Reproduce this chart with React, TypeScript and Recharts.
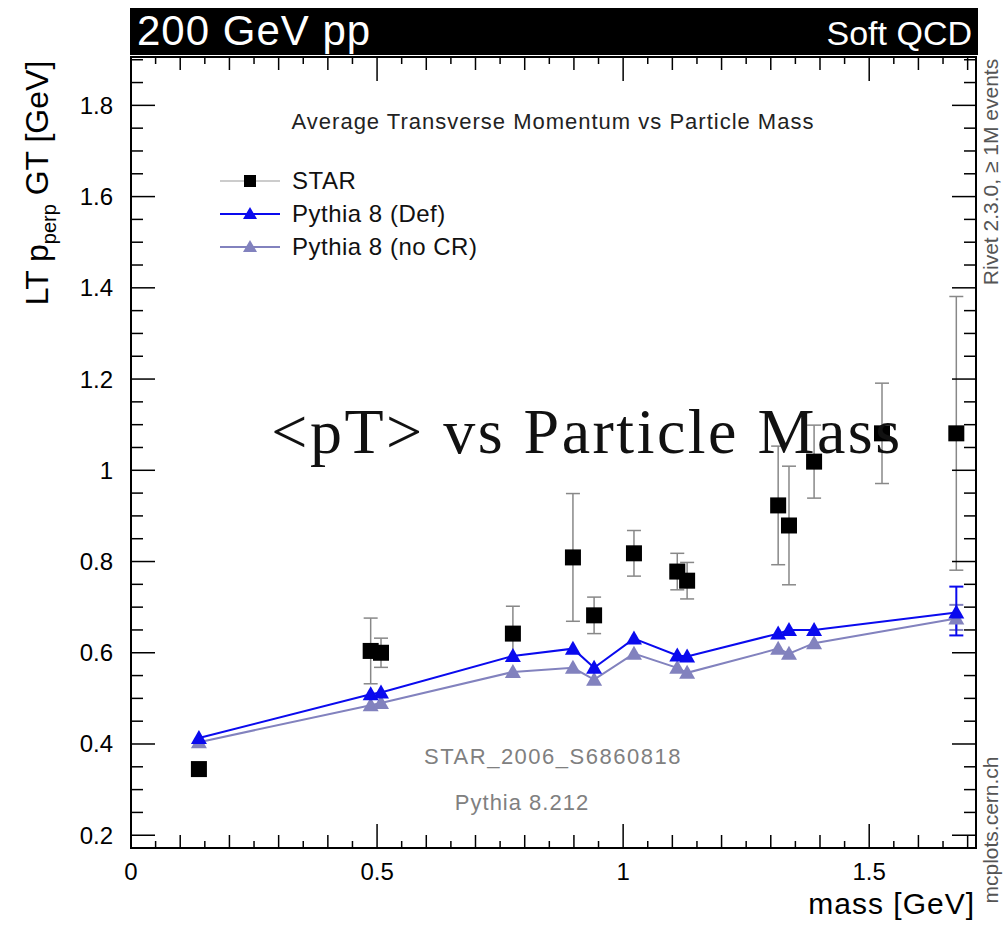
import { ComposedChart, Scatter, XAxis, YAxis, ErrorBar, ReferenceArea } from "recharts";

// STAR data points
const starMass = [0.138, 0.487, 0.508, 0.776, 0.898, 0.941, 1.022, 1.11, 1.13, 1.315, 1.337, 1.388, 1.526, 1.677];
const starPt = [0.345, 0.604, 0.6, 0.642, 0.809, 0.682, 0.818, 0.778, 0.758, 0.923, 0.879, 1.019, 1.081, 1.081];
const starErr = [0.012, 0.072, 0.032, 0.06, 0.14, 0.04, 0.05, 0.04, 0.04, 0.13, 0.13, 0.08, 0.11, 0.3];

// Pythia 8 curves
const pyMass = [0.138, 0.487, 0.508, 0.776, 0.898, 0.941, 1.022, 1.11, 1.13, 1.315, 1.337, 1.388, 1.677];
const defPt = [0.413, 0.509, 0.513, 0.593, 0.609, 0.567, 0.631, 0.594, 0.592, 0.642, 0.65, 0.65, 0.688];
const noCrPt = [0.404, 0.485, 0.49, 0.558, 0.567, 0.541, 0.598, 0.567, 0.556, 0.609, 0.598, 0.621, 0.675];
const defErr = [null, null, null, null, null, null, null, null, null, null, null, null, [0.05, 0.057]];
const noCrErr = [null, null, null, null, null, null, null, null, null, null, null, null, [0.025, 0.03]];

const xMajor = [0, 0.5, 1, 1.5];
const yMajor = [0.2, 0.4, 0.6, 0.8, 1, 1.2, 1.4, 1.6, 1.8];

const W = 1004;
const H = 927;
const PL = 131, PR = 976, PT = 57, PB = 848;
const BLUE = "#0a0aee";
const PURPLE = "#8282be";
const FONT = "'Liberation Sans', Arial, sans-serif";

// every 0.05, labels only on the majors
const xTicks = Array.from({ length: 35 }, (_, i) => +(i * 0.05).toFixed(2));
const yTicks = Array.from({ length: 35 }, (_, i) => +(0.2 + i * 0.05).toFixed(2));

const starData = starMass.map((m, i) => ({ mass: m, pt: starPt[i], err: starErr[i] }));
const defData = pyMass.map((m, i) => ({ mass: m, pt: defPt[i], err: defErr[i] }));
const noCrData = pyMass.map((m, i) => ({ mass: m, pt: noCrPt[i], err: noCrErr[i] }));

const near = (v: number, step: number) => Math.abs(v / step - Math.round(v / step)) < 1e-6;

function YTick({ y, payload }: any) {
  const v = payload.value;
  const len = near(v, 0.2) ? 24 : 12;
  return (
    <g>
      <line x1={PL} x2={PL + len} y1={y} y2={y} stroke="#000" strokeWidth={1.5} />
      <line x1={PR - len} x2={PR} y1={y} y2={y} stroke="#000" strokeWidth={1.5} />
      {yMajor.includes(v) && (
        <text x={113} y={y} textAnchor="end" dominantBaseline="central" fontSize={24} fontFamily={FONT} fill="#000">
          {String(v)}
        </text>
      )}
    </g>
  );
}

function XTick({ x, payload }: any) {
  const v = payload.value;
  const len = near(v, 0.5) ? 24 : near(v, 0.1) ? 13 : 7;
  return (
    <g>
      <line x1={x} x2={x} y1={PB} y2={PB - len} stroke="#000" strokeWidth={1.5} />
      <line x1={x} x2={x} y1={PT} y2={PT + len} stroke="#000" strokeWidth={1.5} />
      {xMajor.includes(v) && (
        <text x={x} y={871} textAnchor="middle" dominantBaseline="central" fontSize={24} fontFamily={FONT} fill="#000">
          {String(v)}
        </text>
      )}
    </g>
  );
}

const square = (p: any) => <rect x={p.cx - 8} y={p.cy - 8} width={16} height={16} fill="#000" />;
const triangle = (color: string) => (p: any) => (
  <path d={`M${p.cx},${p.cy - 8} L${p.cx + 8},${p.cy + 6} L${p.cx - 8},${p.cy + 6} Z`} fill={color} />
);

function LegendRow({ y, color, lineColor, marker, label }: any) {
  return (
    <div style={{ position: "absolute", left: 220, top: y - 14, height: 28, display: "flex", alignItems: "center" }}>
      <svg width={62} height={28}>
        <line x1={0} x2={60} y1={14} y2={14} stroke={lineColor} strokeWidth={marker === "sq" ? 1 : 2} />
        {marker === "sq" ? (
          <rect x={24} y={8} width={12} height={12} fill={color} />
        ) : (
          <path d="M30,7 L37,19 L23,19 Z" fill={color} />
        )}
      </svg>
      <span style={{ marginLeft: 10, fontSize: 24, letterSpacing: 0.5, fontFamily: FONT, color: "#111", whiteSpace: "nowrap" }}>{label}</span>
    </div>
  );
}

const abs = (s: any) => ({ position: "absolute", whiteSpace: "nowrap", fontFamily: FONT, ...s });

export default function App() {
  return (
    <div style={{ position: "absolute", left: 0, top: 0, width: W, height: H, background: "#fff", overflow: "hidden" }}>
      <ComposedChart
        width={W}
        height={H}
        margin={{ left: PL - 1, right: W - PR, top: PT, bottom: H - PB - 1 }}
      >
        <XAxis
          dataKey="mass"
          type="number"
          domain={[0, 1.717]}
          ticks={xTicks}
          interval={0}
          height={1}
          axisLine={false}
          tickLine={false}
          tick={(p: any) => <XTick {...p} />}
          allowDataOverflow
        />
        <YAxis
          dataKey="pt"
          type="number"
          domain={[0.172, 1.906]}
          ticks={yTicks}
          interval={0}
          width={1}
          axisLine={false}
          tickLine={false}
          tick={(p: any) => <YTick {...p} />}
          allowDataOverflow
        />
        <ReferenceArea x1={0} x2={1.717} y1={0.172} y2={1.906} fill="none" stroke="#000" strokeWidth={2} ifOverflow="visible" />
        <Scatter data={starData} shape={square} isAnimationActive={false}>
          <ErrorBar dataKey="err" direction="y" width={7} stroke="#888" strokeWidth={1.5} />
        </Scatter>
        <Scatter
          data={noCrData}
          shape={triangle(PURPLE)}
          line={{ stroke: PURPLE, strokeWidth: 2 }}
          isAnimationActive={false}
        >
          <ErrorBar dataKey="err" direction="y" width={7} stroke={PURPLE} strokeWidth={2} />
        </Scatter>
        <Scatter
          data={defData}
          shape={triangle(BLUE)}
          line={{ stroke: BLUE, strokeWidth: 2 }}
          isAnimationActive={false}
        >
          <ErrorBar dataKey="err" direction="y" width={7} stroke={BLUE} strokeWidth={2} />
        </Scatter>
      </ComposedChart>

      <div style={{ position: "absolute", left: 130, top: 8, width: 848, height: 47, background: "#000" }} />
      <div style={abs({ left: 137, top: 31, transform: "translateY(-50%)", fontSize: 42, letterSpacing: 1, color: "#fff" })}>200 GeV pp</div>
      <div style={abs({ right: W - 972, top: 33, transform: "translateY(-50%)", fontSize: 34, color: "#fff" })}>Soft QCD</div>

      <div style={abs({ left: 553, top: 122, transform: "translate(-50%,-50%)", fontSize: 22, letterSpacing: 1, color: "#222" })}>
        Average Transverse Momentum vs Particle Mass
      </div>

      <LegendRow y={181} color="#000" lineColor="#999" marker="sq" label="STAR" />
      <LegendRow y={214} color={BLUE} lineColor={BLUE} marker="tri" label="Pythia 8 (Def)" />
      <LegendRow y={247} color={PURPLE} lineColor={PURPLE} marker="tri" label="Pythia 8 (no CR)" />

      <div style={abs({ left: 587, top: 432, transform: "translate(-50%,-50%)", fontSize: 64, letterSpacing: 2.5, fontFamily: "'Liberation Serif', serif", color: "#111" })}>
        {"<pT> vs Particle Mass"}
      </div>

      <div style={abs({ left: 553, top: 757, transform: "translate(-50%,-50%)", fontSize: 22, letterSpacing: 1.5, color: "#808080" })}>STAR_2006_S6860818</div>
      <div style={abs({ left: 522, top: 803, transform: "translate(-50%,-50%)", fontSize: 22, letterSpacing: 1, color: "#808080" })}>Pythia 8.212</div>

      <div style={abs({ right: W - 975, top: 904, transform: "translateY(-50%)", fontSize: 30, letterSpacing: 1, color: "#000" })}>mass [GeV]</div>

      <div style={abs({ left: 40, top: 183, transform: "translate(-50%,-50%) rotate(-90deg)", fontSize: 32, color: "#000" })}>
        LT p<sub style={{ fontSize: 20 }}>perp</sub> GT [GeV]
      </div>

      <div style={abs({ left: 991, top: 172, transform: "translate(-50%,-50%) rotate(-90deg)", fontSize: 21, color: "#555" })}>
        Rivet 2.3.0, ≥ 1M events
      </div>
      <div style={abs({ left: 991, top: 830, transform: "translate(-50%,-50%) rotate(-90deg)", fontSize: 21, color: "#555" })}>
        mcplots.cern.ch
      </div>
    </div>
  );
}
